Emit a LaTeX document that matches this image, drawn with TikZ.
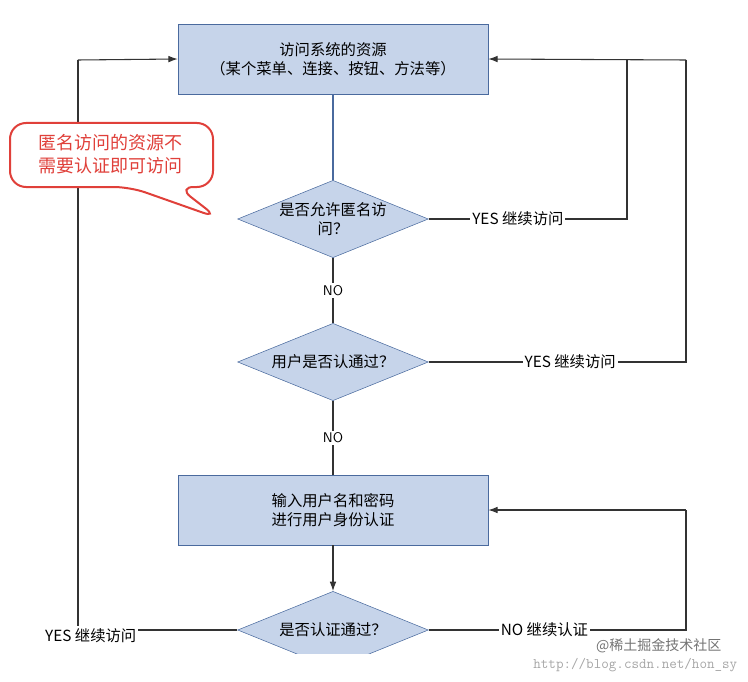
\documentclass[tikz,border=0pt]{standalone}
\usepackage{fontspec}
\setmainfont{Liberation Serif}
\newfontfamily\cjk{Noto Sans CJK SC}
\usetikzlibrary{arrows.meta,shapes.geometric}
\definecolor{boxfill}{HTML}{C6D4EA}
\definecolor{boxedge}{HTML}{4A6A9E}
\definecolor{callred}{HTML}{E0403A}
\definecolor{lin}{HTML}{333333}
\begin{document}
\begin{tikzpicture}[x=0.75pt,y=-0.75pt,font=\cjk\fontsize{11.5}{14.5}\selectfont,
  box/.style={draw=boxedge,fill=boxfill,minimum width=232.5pt,minimum height=52.5pt,align=center,inner sep=0},
  dia/.style={diamond,draw=boxedge,fill=boxfill,aspect=2.45,minimum width=143pt,minimum height=58pt,inner sep=0,align=center},
  ln/.style={draw=lin,line width=0.8pt},
  bl/.style={draw=boxedge,line width=0.8pt},
  arr/.style={ln,-{Latex[length=7pt,width=5pt]}},
  lab/.style={fill=white,inner sep=1.5pt}]
\useasboundingbox (0,0) rectangle (748,681);
\node[box] (b1) at (333,59) {访问系统的资源\\（某个菜单、连接、按钮、方法等）};
\node[dia] (d1) at (333,219) {是否允许匿名访\\问？};
\node[dia] (d2) at (333,362) {用户是否认通过？};
\node[box] (b2) at (333,510) {输入用户名和密码\\进行用户身份认证};
\begin{scope}
\clip (0,0) rectangle (748,653);
\node[dia] (d3) at (333,630) {是否认证通过？};
\end{scope}
\coordinate (c1) at (627,219); \coordinate (c1t) at (627,60);
\coordinate (c2) at (686,362); \coordinate (c2t) at (686,60);
\coordinate (c3) at (686,630); \coordinate (c3t) at (686,510);
\coordinate (c4) at (78,630); \coordinate (c4t) at (78,60);
\path[bl] (b1.south) -- (d1.north);
\path[ln] (d1.south) -- node[lab,font=\sffamily\fontsize{10.5}{12}\selectfont]{NO} (d2.north);
\path[ln] (d2.south) -- node[lab,font=\sffamily\fontsize{10.5}{12}\selectfont]{NO} (b2.north);
\path[arr] (b2.south) -- (d3.north);
\path[ln] (d1.east) -- node[lab,pos=0.45]{YES 继续访问} (c1) -- (c1t);
\path[ln] (d2.east) -- node[lab,pos=0.55]{YES 继续访问} (c2) -- (c2t);
\path[arr] (c2t) -- (b1.east);
\path[ln] (d3.east) -- node[lab,pos=0.45]{NO 继续认证} (c3) -- (c3t);
\path[arr] (c3t) -- (b2.east);
\path[ln] (d3.west) -- node[lab,pos=0.92,yshift=-4pt]{YES 继续访问} (c4) -- (c4t);
\path[arr] (c4t) -- (b1.west);
% callout
\draw[callred,line width=1.5pt,fill=white,rounded corners=12pt]
  (10,123) -- (213,123) -- (213,187) -- (178,187) -- (218,218) -- (130,187) -- (10,187) -- cycle;
\node[text=callred,align=left,font=\cjk\fontsize{13.5}{17}\selectfont] (call) at (110,154) {匿名访问的资源不\\需要认证即可访问};
\node[text=black!35,font=\ttfamily\fontsize{11}{12}\selectfont,anchor=east] (url) at (742,665) {http://blog.csdn.net/hon\_sy};
\node[text=black!55,font=\cjk\fontsize{10.5}{12}\selectfont,anchor=east] (wm) at (726,646) {@稀土掘金技术社区};
\end{tikzpicture}
\end{document}
